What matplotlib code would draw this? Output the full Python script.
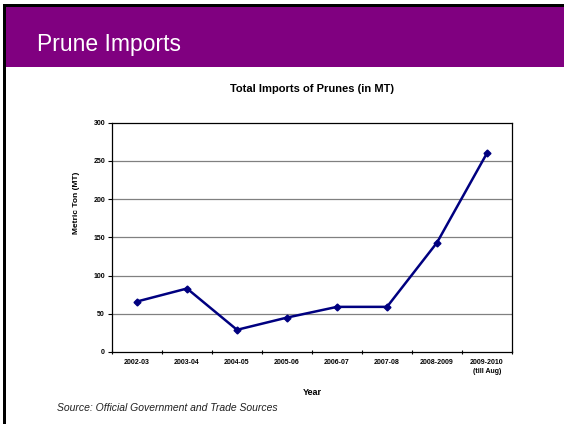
import numpy as np
import matplotlib.pyplot as plt
from matplotlib.patches import Rectangle

plt.rcParams['font.family'] = ['Liberation Sans', 'DejaVu Sans']

# data
years = ['2002-03', '2003-04', '2004-05', '2005-06', '2006-07',
         '2007-08', '2008-2009', '2009-2010\n(till Aug)']
imports_mt = [66, 83, 29, 45, 59, 59, 143, 260]
y_ticks = [0, 50, 100, 150, 200, 250, 300]

fig = plt.figure(figsize=(5.64, 4.24), dpi=100)
fig.patch.set_facecolor('white')

# slide header band with black edge top and left
fig.add_artist(Rectangle((3 / 564, 1 - 7 / 424), 1, 3 / 424, transform=fig.transFigure,
                         facecolor='black', edgecolor='none'))
fig.add_artist(Rectangle((3 / 564, 0), 3 / 564, 1 - 4 / 424, transform=fig.transFigure,
                         facecolor='black', edgecolor='none'))
fig.add_artist(Rectangle((6 / 564, 1 - 67 / 424), 1, 60 / 424, transform=fig.transFigure,
                         facecolor='#800080', edgecolor='none'))
fig.text(37 / 564, 1 - 44 / 424, 'Prune Imports', color='white', fontsize=16.5,
         va='center', ha='left')

ax = fig.add_axes([112 / 564, 1 - 352 / 424, 400 / 564, 229.5 / 424])
x = np.arange(len(years))
ax.plot(x, imports_mt, color='#000080', linewidth=1.8, marker='D', markersize=3.5,
        zorder=3)

ax.set_xlim(-0.5, len(years) - 0.5)
ax.set_ylim(0, 300)
ax.set_yticks(y_ticks)
ax.set_yticklabels([str(v) for v in y_ticks], fontsize=5, fontweight='bold')
ax.set_xticks(x)
ax.set_xticklabels(years, fontsize=5, fontweight='bold', linespacing=1.5)
ax.set_xticks(np.arange(-0.5, len(years)), minor=True)
ax.tick_params(axis='x', which='major', length=0, pad=5)
ax.tick_params(axis='x', which='minor', length=3, direction='inout', width=0.8)
ax.tick_params(axis='y', length=3, width=0.8, pad=2)
for yv in y_ticks[1:-1]:
    ax.axhline(yv, color='#808080', linewidth=0.9, zorder=1)
for s in ax.spines.values():
    s.set_color('black')
    s.set_linewidth(0.9)

ax.set_title('Total Imports of Prunes (in MT)', fontsize=8, fontweight='bold', pad=22)
ax.set_ylabel('Metric Ton (MT)', fontsize=6, fontweight='bold')
ax.yaxis.set_label_coords(-0.08, 0.65)
ax.set_xlabel('Year', fontsize=6.5, fontweight='bold', labelpad=9)

fig.text(57 / 564, 1 - 408 / 424, 'Source: Official Government and Trade Sources',
         fontsize=7.5, style='italic', va='center', ha='left', color='#202020')

fig.savefig('out.png', dpi=100)
